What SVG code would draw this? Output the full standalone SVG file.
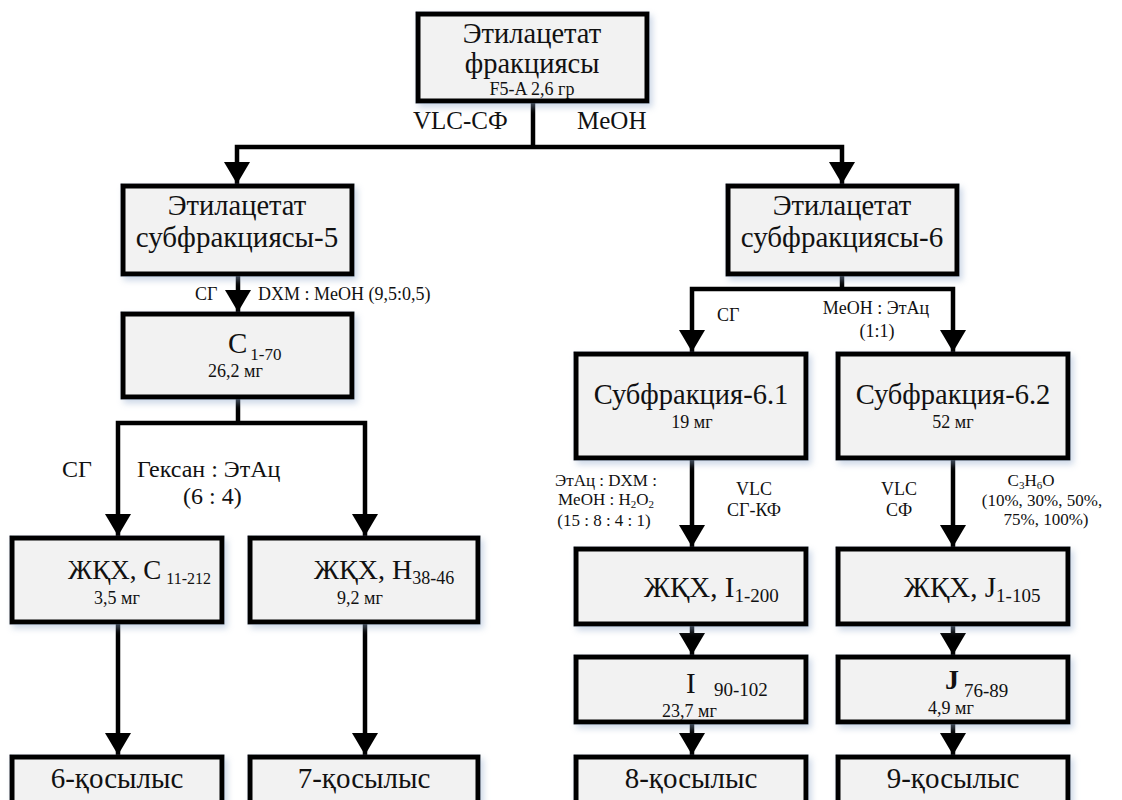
<svg xmlns="http://www.w3.org/2000/svg" width="1122" height="800" viewBox="0 0 1122 800">
  <style>
    text { font-family: "Liberation Serif", "Times New Roman", serif; fill: #111; }
    .box { fill: #f2f2f2; stroke: #000; stroke-width: 5; filter: url(#shadow); }
    .big { font-size: 28.5px; }
    .lbl { font-size: 24px; }
    .sm { font-size: 18px; }
    .mg { font-size: 18px; }
    .c { text-anchor: middle; }
    .edge { fill: none; stroke: #000; stroke-width: 4.5; }
    .arr { marker-end: url(#head); }
  </style>
  <defs>
    <filter id="shadow" x="-10%" y="-10%" width="125%" height="130%">
      <feDropShadow dx="3" dy="4" stdDeviation="3" flood-color="#8fa8cc" flood-opacity="0.45"/>
    </filter>
    <marker id="head" viewBox="0 0 22 26" refX="22" refY="13" markerWidth="22" markerHeight="26" markerUnits="userSpaceOnUse" orient="auto">
      <path d="M0,0 L22,13 L0,26 Z" fill="#000"/>
    </marker>
  </defs>

  <rect width="1122" height="800" fill="#fff"/>

  <!-- connectors -->
  <g id="connectors">
    <path class="edge" d="M533,101 V147"/>
    <path class="edge arr" d="M533,147 H237 V184"/>
    <path class="edge arr" d="M533,147 H842 V184"/>
    <path class="edge arr" d="M238,274 V312"/>
    <path class="edge" d="M238,397 V423"/>
    <path class="edge arr" d="M238,423 H118 V536"/>
    <path class="edge arr" d="M238,423 H365 V536"/>
    <path class="edge arr" d="M118,622 V755"/>
    <path class="edge arr" d="M365,622 V755"/>
    <path class="edge" d="M842,274 V289"/>
    <path class="edge arr" d="M842,289 H692 V352"/>
    <path class="edge arr" d="M842,289 H953 V352"/>
    <path class="edge arr" d="M692,458 V547"/>
    <path class="edge arr" d="M953,458 V547"/>
    <path class="edge arr" d="M692,624 V655"/>
    <path class="edge arr" d="M953,624 V655"/>
    <path class="edge arr" d="M692,722 V755"/>
    <path class="edge arr" d="M953,722 V755"/>
  </g>

  <!-- edge labels -->
  <g id="labels">
    <text x="413" y="129" style="font-size:25px">VLC-СФ</text>
    <text x="577" y="129" style="font-size:25px">MeOH</text>
    <text class="sm" x="195" y="300">СГ</text>
    <text class="sm" x="258" y="300">DXM : MeOH (9,5:0,5)</text>
    <text class="lbl" x="62" y="477">СГ</text>
    <text class="lbl" x="137" y="477">Гексан : ЭтАц</text>
    <text class="lbl" x="183" y="504">(6 : 4)</text>
    <text class="sm" x="717" y="321">СГ</text>
    <text class="sm c" x="876" y="314">MeOH : ЭтАц</text>
    <text class="sm c" x="877" y="337">(1:1)</text>
    <text class="c" style="font-size:17px" x="606" y="486">ЭтАц : DXM :</text>
    <text class="c" style="font-size:17px" x="606" y="505">MeOH : H<tspan style="font-size:11px" dy="3">2</tspan><tspan dy="-3">O</tspan><tspan style="font-size:11px" dy="3">2</tspan></text>
    <text class="c" style="font-size:17px" x="604" y="526">(15 : 8 : 4 : 1)</text>
    <text class="sm c" x="754" y="495">VLC</text>
    <text class="sm c" x="754" y="516">СГ-КФ</text>
    <text class="sm c" x="899" y="495">VLC</text>
    <text class="sm c" x="899" y="516">СФ</text>
    <text class="c" style="font-size:17px" x="1031" y="486">C<tspan style="font-size:11px" dy="3">3</tspan><tspan dy="-3">H</tspan><tspan style="font-size:11px" dy="3">6</tspan><tspan dy="-3">O</tspan></text>
    <text class="c" style="font-size:17px" x="1042" y="506">(10%, 30%, 50%,</text>
    <text class="c" style="font-size:17px" x="1046" y="525">75%, 100%)</text>
  </g>

  <!-- nodes -->
  <g id="n-root">
    <rect class="box" x="418" y="14" width="229" height="87"/>
    <text class="big c" x="532" y="43">Этилацетат</text>
    <text class="big c" x="532" y="73">фракциясы</text>
    <text class="mg c" x="532" y="95">F5-A 2,6 гр</text>
  </g>
  <g id="n-sub5">
    <rect class="box" x="123" y="186" width="229" height="88"/>
    <text class="big c" x="237" y="215">Этилацетат</text>
    <text class="c" style="font-size:29px" x="237" y="247">субфракциясы-5</text>
  </g>
  <g id="n-sub6">
    <rect class="box" x="728" y="186" width="229" height="88"/>
    <text class="big c" x="842" y="215">Этилацетат</text>
    <text class="c" style="font-size:29px" x="842" y="247">субфракциясы-6</text>
  </g>
  <g id="n-c170">
    <rect class="box" x="123" y="314" width="229" height="83"/>
    <text x="228" y="353" style="font-size:29px">C<tspan style="font-size:17px" dx="3" dy="7">1-70</tspan></text>
    <text class="mg" x="208" y="377">26,2 мг</text>
  </g>
  <g id="n-sub61">
    <rect class="box" x="576" y="354" width="230" height="104"/>
    <text class="big c" x="691" y="404">Субфракция-6.1</text>
    <text class="mg c" x="692" y="428">19 мг</text>
  </g>
  <g id="n-sub62">
    <rect class="box" x="838" y="354" width="230" height="104"/>
    <text class="big c" x="953" y="404">Субфракция-6.2</text>
    <text class="mg c" x="953" y="428">52 мг</text>
  </g>
  <g id="n-c11">
    <rect class="box" x="12" y="538" width="210" height="84"/>
    <text x="68" y="579" style="font-size:27px">ЖҚХ, C<tspan style="font-size:16px" dx="5" dy="5">11-212</tspan></text>
    <text class="mg" x="94" y="604">3,5 мг</text>
  </g>
  <g id="n-h38">
    <rect class="box" x="250" y="538" width="228" height="84"/>
    <text x="314" y="579" style="font-size:28px">ЖҚХ, H<tspan style="font-size:18px" dy="5">38-46</tspan></text>
    <text class="mg" x="337" y="604">9,2 мг</text>
  </g>
  <g id="n-i1200">
    <rect class="box" x="576" y="549" width="230" height="75"/>
    <text x="644" y="597" style="font-size:29px">ЖҚХ, I<tspan style="font-size:19px" dy="5">1-200</tspan></text>
  </g>
  <g id="n-j1105">
    <rect class="box" x="838" y="549" width="230" height="75"/>
    <text x="904" y="597" style="font-size:29px">ЖҚХ, J<tspan style="font-size:19px" dy="5">1-105</tspan></text>
  </g>
  <g id="n-i90">
    <rect class="box" x="576" y="657" width="230" height="65"/>
    <text x="686" y="693" style="font-size:29px">I</text>
    <text style="font-size:19px" x="714" y="696">90-102</text>
    <text class="mg" x="662" y="717">23,7 мг</text>
  </g>
  <g id="n-j76">
    <rect class="box" x="838" y="657" width="230" height="65"/>
    <text x="945" y="689" style="font-size:28px;font-weight:bold">J</text>
    <text style="font-size:19px" x="964" y="697">76-89</text>
    <text class="mg" x="928" y="714">4,9 мг</text>
  </g>
  <g id="n-6">
    <rect class="box" x="12" y="757" width="210" height="60"/>
    <text class="c" style="font-size:29px" x="117" y="788">6-қосылыс</text>
  </g>
  <g id="n-7">
    <rect class="box" x="250" y="757" width="228" height="60"/>
    <text class="c" style="font-size:29px" x="364" y="788">7-қосылыс</text>
  </g>
  <g id="n-8">
    <rect class="box" x="576" y="757" width="230" height="60"/>
    <text class="c" style="font-size:29px" x="691" y="788">8-қосылыс</text>
  </g>
  <g id="n-9">
    <rect class="box" x="838" y="757" width="230" height="60"/>
    <text class="c" style="font-size:29px" x="953" y="788">9-қосылыс</text>
  </g>
</svg>
